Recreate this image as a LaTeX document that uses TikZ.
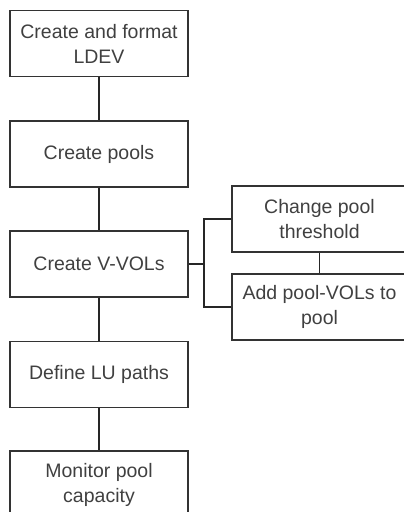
\documentclass[tikz,border=0pt]{standalone}
\usepackage{fontspec}
\setmainfont{Liberation Sans}
\begin{document}
\begin{tikzpicture}[x=1pt,y=-1pt,
  box/.style={draw=black!80, line width=1.3pt, rectangle, minimum width=178pt, minimum height=66pt,
    inner sep=0pt, align=center, text=black!75, font=\fontsize{19.5}{25}\selectfont},
  rbox/.style={box, minimum width=175pt},
  conn/.style={draw=black!85, line width=1.3pt}]
\useasboundingbox (0,0) rectangle (404,512);
\node[box] (b1) at (99,43.5) {Create and format\\LDEV};
\node[box] (b2) at (99,154) {Create pools};
\node[box] (b3) at (99,264) {Create V-VOLs};
\node[box] (b4) at (99,374.5) {Define LU paths};
\node[box, minimum height=67pt] (b5) at (99,484.5) {Monitor pool\\capacity};
\node[rbox] (r1) at (319.5,219) {Change pool\\threshold};
\node[rbox] (r2) at (319.5,307) {Add pool-VOLs to\\pool};
\coordinate (j) at (204,264);
\draw[conn] (b1) -- (b2);
\draw[conn] (b2) -- (b3);
\draw[conn] (b3) -- (b4);
\draw[conn] (b4) -- (b5);
\draw[conn] (b3.east) -- (j);
\draw[conn] (r1.west) -| (j) |- (r2.west);
\draw[conn] (r1.south) -- (r2.north);
\end{tikzpicture}
\end{document}
